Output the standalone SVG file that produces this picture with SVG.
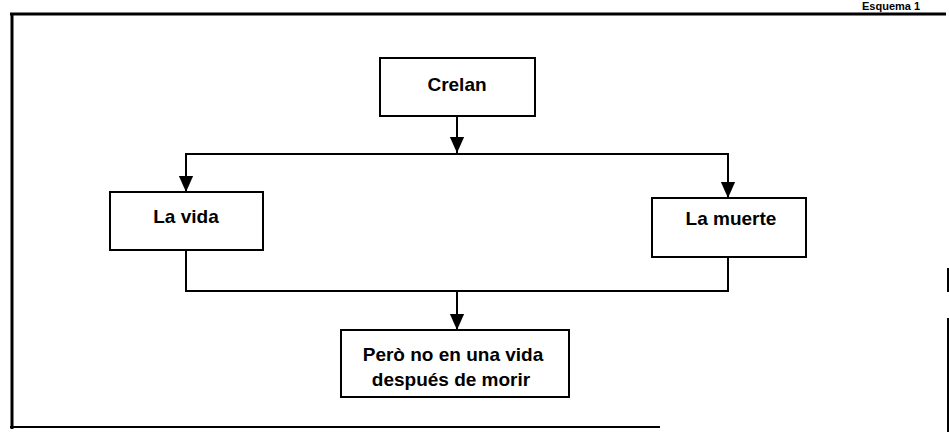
<svg xmlns="http://www.w3.org/2000/svg" width="949" height="432" viewBox="0 0 949 432">
<style>
.box{fill:#fff;stroke:#000;stroke-width:2}
.lbl{font-family:"Liberation Sans",Arial,sans-serif;font-size:19px;font-weight:bold;fill:#000;text-anchor:middle}
.con{fill:none;stroke:#000;stroke-width:2}
.frame{fill:none;stroke:#000}
</style>
<defs>
<marker id="arr" markerUnits="userSpaceOnUse" markerWidth="16" markerHeight="18" viewBox="0 0 18 16" refX="18" refY="8" orient="auto">
<path d="M0,0 L18,8 L0,16 Z" fill="#000"/>
</marker>
</defs>
<rect width="949" height="432" fill="#fff"/>
<g id="frame">
<line class="frame" x1="10" y1="14" x2="946" y2="14" stroke-width="3"/>
<line class="frame" x1="12" y1="13" x2="12" y2="429" stroke-width="3"/>
<line class="frame" x1="10" y1="427" x2="660" y2="427" stroke-width="2"/>
<line class="frame" x1="948" y1="268" x2="948" y2="292" stroke-width="2"/>
<line class="frame" x1="948" y1="318" x2="948" y2="432" stroke-width="2"/>
<text x="862" y="10" font-family="'Liberation Sans',Arial,sans-serif" font-size="11" font-weight="bold">Esquema 1</text>
</g>
<g id="connectors">
<line class="con" x1="457" y1="116" x2="457" y2="153" marker-end="url(#arr)"/>
<polyline class="con" points="186,192 186,154 728,154 728,198"/>
<polyline class="con" points="186,250 186,291 728,291 728,257"/>
<line class="con" x1="457" y1="291" x2="457" y2="330" marker-end="url(#arr)"/>
<line class="con" x1="186" y1="154" x2="186" y2="192" marker-end="url(#arr)"/>
<line class="con" x1="728" y1="154" x2="728" y2="198" marker-end="url(#arr)"/>
</g>
<g id="crelan">
<rect class="box" x="380" y="58" width="155" height="58"/>
<text class="lbl" x="457" y="91">Crelan</text>
</g>
<g id="la-vida">
<rect class="box" x="110" y="192" width="153" height="58"/>
<text class="lbl" x="186" y="223">La vida</text>
</g>
<g id="la-muerte">
<rect class="box" x="652" y="198" width="154" height="59"/>
<text class="lbl" x="731" y="225">La muerte</text>
</g>
<g id="pero">
<rect class="box" x="341" y="330" width="228" height="67"/>
<text class="lbl" x="453" y="361">Però no en una vida</text>
<text class="lbl" x="451" y="386">después de morir</text>
</g>
</svg>
